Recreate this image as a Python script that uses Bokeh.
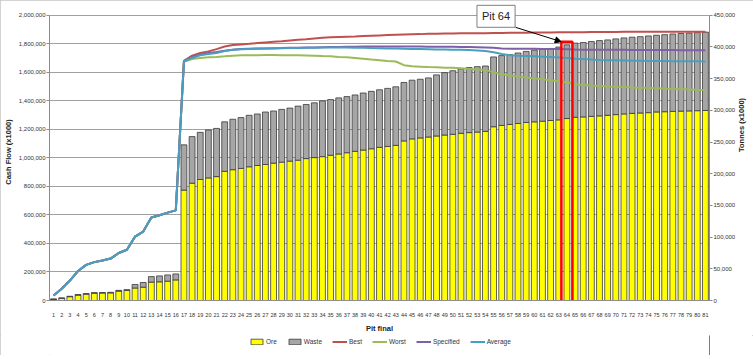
import math
from bokeh.plotting import figure
from bokeh.layouts import column
from bokeh.models import (Range1d, LinearAxis, FixedTicker, NumeralTickFormatter, Legend,
                          LegendItem, Label, Arrow, NormalHead, ColumnDataSource)
from bokeh.embed import file_html
from bokeh.resources import INLINE

# ---------------- data ----------------
pits = list(range(1, 82))

ore = [1500, 3500, 6000, 8500, 10000, 11500, 11800, 12000, 14800, 16000,
       19700, 21000, 29000, 29500, 30500, 32500, 174200, 185100, 190900, 193400,
       195500, 203800, 206400, 208400, 211000, 213000, 214600, 216700, 218300, 219900,
       221400, 223900, 225500, 227000, 229200, 231200, 233200, 235400, 237400, 239400,
       241600, 243100, 244700, 251800, 255000, 256500, 258000, 259600, 261100, 262200,
       263800, 264900, 265800, 266900, 274200, 276200, 277800, 279300, 280900, 281900,
       282900, 284000, 285000, 287100, 289100, 289700, 290600, 291300, 292200, 293300,
       294400, 295300, 295900, 296400, 297500, 297900, 298400, 298800, 299200, 299500,
       299800]

waste = [1100, 600, 700, 800, 900, 900, 800, 900, 1200, 1100,
         5600, 7400, 8700, 9300, 9800, 9400, 71400, 73500, 74400, 75600,
         76000, 78100, 79600, 80200, 81200, 81300, 82800, 82300, 83200, 83700,
         85300, 85400, 86400, 88000, 87800, 88500, 88500, 88900, 90000, 90600,
         90900, 91600, 92500, 92200, 92600, 92600, 93200, 96400, 98400, 100300,
         101700, 102600, 103200, 103100, 110100, 110200, 110100, 111200, 112100, 113300,
         113900, 113700, 114900, 116300, 117000, 117300, 118000, 118800, 119000, 119500,
         119900, 120100, 120400, 121000, 121000, 121500, 122100, 122500, 122800, 123100,
         123700]

early = [34500, 82000, 140000, 207000, 250000, 269000, 280000, 294000, 333000, 356000,
         448000, 483000, 582000, 598000, 616000, 632000]

best = early + [1680000, 1717000, 1736000, 1747000, 1763000, 1781000, 1791000, 1796000, 1800000, 1805000,
                1810000, 1814000, 1818000, 1823000, 1828000, 1832000, 1837000, 1842000, 1846000, 1848000,
                1850000, 1852000, 1855000, 1857000, 1859000, 1861000, 1863000, 1865000, 1867000, 1868000,
                1870000, 1871000, 1872000, 1873000, 1874000, 1874000, 1875000, 1875000, 1876000, 1876000,
                1877000, 1877000, 1878000, 1879000, 1880000, 1880000, 1881000, 1881000, 1882000, 1882000,
                1883000, 1883000, 1883000, 1883000, 1884000, 1884000, 1884000, 1884000, 1885000, 1885000,
                1885000, 1885000, 1885000, 1885000, 1885000]

worst = early + [1674000, 1694000, 1701000, 1706000, 1708000, 1712000, 1717000, 1719000, 1720000, 1720000,
                 1721000, 1721000, 1720000, 1720000, 1719000, 1718000, 1717000, 1714000, 1712000, 1708000,
                 1705000, 1701000, 1696000, 1690000, 1685000, 1680000, 1676000, 1650000, 1643000, 1640000,
                 1637000, 1635000, 1633000, 1632000, 1628000, 1624000, 1620000, 1616000, 1600000, 1586000,
                 1578000, 1570000, 1563000, 1557000, 1552000, 1545000, 1538000, 1530000, 1517000, 1512000,
                 1508000, 1505000, 1501000, 1499000, 1497000, 1494000, 1492000, 1490000, 1488000, 1486000,
                 1484000, 1482000, 1480000, 1478000, 1477000]

specified = early + [1679000, 1708000, 1726000, 1736000, 1743000, 1752000, 1759000, 1763000, 1766000, 1767000,
                     1768000, 1769000, 1770000, 1772000, 1773000, 1774000, 1775000, 1776000, 1777000, 1778000,
                     1779000, 1780000, 1781000, 1781000, 1781000, 1781000, 1781000, 1781000, 1781000, 1781000,
                     1780000, 1780000, 1779000, 1779000, 1778000, 1777000, 1776000, 1775000, 1772000, 1768000,
                     1766000, 1766000, 1765000, 1765000, 1764000, 1764000, 1763000, 1762000, 1760000, 1759000,
                     1759000, 1759000, 1758000, 1758000, 1758000, 1757000, 1757000, 1757000, 1756000, 1756000,
                     1756000, 1755000, 1755000, 1755000, 1755000]

average = early + [1678000, 1701000, 1720000, 1729000, 1736000, 1750000, 1759000, 1762000, 1764000, 1766000,
                   1767000, 1768000, 1769000, 1770000, 1771000, 1772000, 1773000, 1774000, 1775000, 1775000,
                   1774000, 1773000, 1772000, 1770000, 1769000, 1768000, 1767000, 1765000, 1764000, 1763000,
                   1762000, 1761000, 1760000, 1759000, 1758000, 1756000, 1754000, 1750000, 1741000, 1728000,
                   1720000, 1717000, 1715000, 1713000, 1710000, 1707000, 1704000, 1700000, 1696000, 1694000,
                   1690000, 1686000, 1685000, 1684000, 1683000, 1682000, 1681000, 1680000, 1680000, 1679000,
                   1678000, 1678000, 1677000, 1677000, 1676000]

cash_ticks = list(range(0, 2000001, 200000))
tonnes_ticks = list(range(0, 450001, 50000))
highlight_pit = 64
highlight_label = "Pit 64"

# ---------------- styling ----------------
FONT = "Liberation Sans"
TXT = "#333333"
AX = "#8c8c8c"
W = 753
# frame is 302 px tall; the axes occupy the lower 290 px, headroom above for the callout
HEAD = 302 / 290
cash_top = cash_ticks[-1]
ton_top = tonnes_ticks[-1]

p = figure(width=W, height=335, output_backend="svg", toolbar_location=None,
           x_range=Range1d(0.5, 81.5), y_range=Range1d(0, cash_top * HEAD),
           min_border_left=45, min_border_right=41, min_border_top=3, min_border_bottom=30,
           background_fill_color="white", border_fill_color="white")
p.outline_line_color = None
p.extra_y_ranges = {"tonnes": Range1d(0, ton_top * HEAD)}

p.xgrid.grid_line_color = None
p.ygrid.ticker = FixedTicker(ticks=cash_ticks)
p.ygrid.grid_line_color = "#a0a0a0"
p.ygrid.grid_line_width = 1

# bars
src = ColumnDataSource(dict(pit=pits, ore=ore, waste=waste))
bar_colors = ["#FFFF00", "#A6A6A6"]
bars = p.vbar_stack(["ore", "waste"], x="pit", width=0.72, source=src,
                    fill_color=bar_colors, line_color="#3a3a3a", line_width=0.8,
                    y_range_name="tonnes")

# lines
line_specs = [("Best", best, "#C0504D"), ("Worst", worst, "#9BBB59"),
              ("Specified", specified, "#7F5FA8"), ("Average", average, "#4A9EC0")]
for name, vals, col in line_specs:
    p.line(pits, vals, line_color=col, line_width=2)

# highlight rectangle around the chosen pit
hi_total = ore[highlight_pit - 1] + waste[highlight_pit - 1]
p.quad(left=[highlight_pit - 0.68], right=[highlight_pit + 0.68],
       top=[hi_total + 5000], bottom=[-3000], fill_color=None,
       line_color="#FF0000", line_width=2.5, y_range_name="tonnes")

# annotation box + arrow
lab = Label(x=55.3, y=1993000, text=highlight_label, text_align="center", text_baseline="middle",
            text_font=FONT, text_font_size="11px", text_color="#222222",
            background_fill_color="white", border_line_color="#808080", border_line_width=1,
            padding=5)
p.add_layout(lab)
arr = Arrow(x_start=57.7, y_start=431000, x_end=highlight_pit - 0.7, y_end=hi_total + 5000,
            y_range_name="tonnes", line_color="black", line_width=1,
            end=NormalHead(size=6, fill_color="black", line_color="black"))
p.add_layout(arr)

# axes
ya = p.yaxis[0]
ya.ticker = FixedTicker(ticks=cash_ticks)
ya.formatter = NumeralTickFormatter(format="0,0")
ya.bounds = (0, cash_top)
ya.axis_label = "Cash Flow (x1000)"
ax_r = LinearAxis(y_range_name="tonnes", ticker=FixedTicker(ticks=tonnes_ticks),
                  formatter=NumeralTickFormatter(format="0,0"), bounds=(0, ton_top),
                  axis_label="Tonnes (x1000)")
ax_r.axis_label_orientation = math.pi / 2
p.add_layout(ax_r, "right")

xa = p.xaxis[0]
xa.ticker = FixedTicker(ticks=pits)
xa.axis_label = "Pit final"
xa.major_tick_line_color = None
xa.major_label_standoff = 6
xa.axis_label_standoff = 4
xa.major_label_text_font_size = "5.5px"

for a in (ya, ax_r, xa):
    a.axis_line_color = AX
    a.minor_tick_line_color = None
    a.major_label_text_font = FONT
    a.major_label_text_color = TXT
    a.axis_label_text_font = FONT
    a.axis_label_text_font_style = "bold"
    a.axis_label_text_font_size = "7.5px"
    a.axis_label_text_color = "#222222"
for a in (ya, ax_r):
    a.major_tick_line_color = AX
    a.major_tick_out = 3
    a.major_tick_in = 0
    a.major_label_standoff = 1
    a.axis_label_standoff = 3
    a.major_label_text_font_size = "6px"

# legend strip below the chart (proxy glyphs sit outside the strip's visible range)
lg = figure(width=W, height=20, output_backend="svg", toolbar_location=None,
            x_range=Range1d(0, 1), y_range=Range1d(0, 1),
            min_border_left=0, min_border_right=0, min_border_top=0, min_border_bottom=0,
            background_fill_color="white", border_fill_color="white")
lg.outline_line_color = None
lg.xaxis.visible = False
lg.yaxis.visible = False
lg.grid.visible = False
items = []
for name, col in zip(["Ore", "Waste"], bar_colors):
    r = lg.vbar(x=[5], top=[1], width=0.5, fill_color=col, line_color="#3a3a3a", line_width=0.8)
    items.append(LegendItem(label=name, renderers=[r]))
for name, vals, col in line_specs:
    r = lg.line(x=[5, 6], y=[0.5, 0.5], line_color=col, line_width=2)
    items.append(LegendItem(label=name, renderers=[r]))
leg = Legend(items=items, orientation="horizontal", location=(200, 10),
             label_text_font=FONT, label_text_font_size="6.5px", label_text_color=TXT,
             glyph_width=15, glyph_height=7, label_standoff=2, spacing=10,
             label_width=4, label_height=8,
             padding=1, margin=0, border_line_color=None, background_fill_alpha=0)
lg.add_layout(leg)

layout = column(p, lg, spacing=0)
layout.styles = {"outline": "1px solid #c4c4c4", "outline-offset": "-1px"}
open("out.html", "w").write(file_html(layout, INLINE))
